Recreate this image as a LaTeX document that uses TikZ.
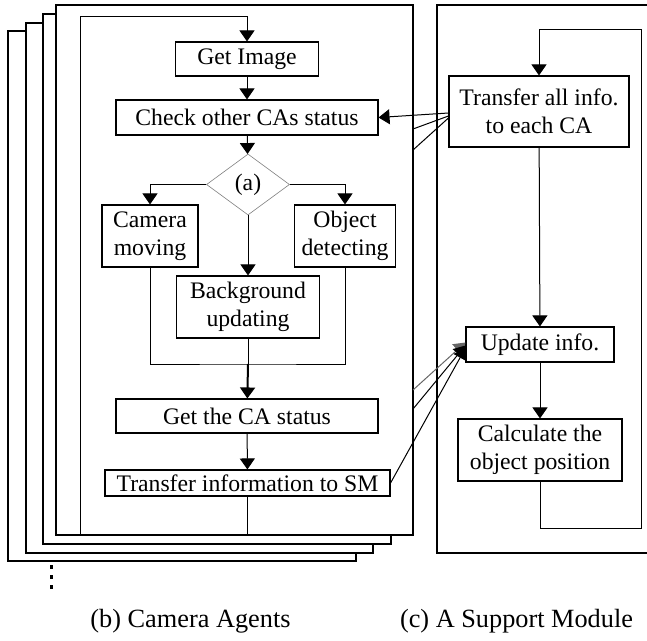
\documentclass[tikz,border=0pt]{standalone}
\usepackage{fontspec}
\setmainfont{Liberation Serif}
\usetikzlibrary{arrows.meta,shapes.geometric}

\begin{document}
\begin{tikzpicture}[x=1pt,y=-1pt,
	box/.style={draw,line width=1.1pt,align=center,inner sep=0pt,font=\fontsize{23.7}{27.5}\selectfont},
	page/.style={draw,line width=1.1pt,fill=white},
	wire/.style={line width=1pt},
	flow/.style={line width=1pt,-{Triangle[width=15pt,length=11pt]}},
	caption/.style={font=\fontsize{26.3}{30}\selectfont}]
	\useasboundingbox (0,0) rectangle (647,640);

	%Camera agents (stacked pages, back ones first)
	\foreach \l/\t/\r/\b in {8/31/356/561,26/23/373/553,43/14/391/544}
		\draw[page] (\l,\t) rectangle (\r,\b);
	\draw[page] (56,5) rectangle (413,535);

	%Support module frame (runs off the right side)
	\draw[line width=1.1pt] (647,5) -- (437,5) -- (437,553) -- (647,553);

	%CA flow
	\node[box,minimum width=143pt,minimum height=34pt] (getimg) at (247,59) {Get Image};
	\node[box,minimum width=262pt,minimum height=35pt] (check) at (247,117.5) {Check other CAs status};
	\node[diamond,draw=gray,line width=0.6pt,inner sep=0pt,minimum width=83pt,minimum height=61pt,
		font=\fontsize{23.7}{27.5}\selectfont] (sel) at (248,184.5) {(a)};
	\node[box,minimum width=96pt,minimum height=62pt] (cammov) at (150,236) {Camera\\moving};
	\node[box,minimum width=101pt,minimum height=62pt] (objdet) at (345,236) {Object\\detecting};
	\node[box,minimum width=143pt,minimum height=62pt] (bgupd) at (248,307) {Background\\updating};
	\coordinate (merge) at (248,364);
	\node[box,minimum width=262pt,minimum height=34pt] (getca) at (247,416) {Get the CA status};
	\node[box,minimum width=285pt,minimum height=26pt] (trsm) at (247.5,483) {Transfer information to SM};

	\draw[flow] (trsm.south) -- ++(0,39) -| (80,16) -| (getimg.north);
	\draw[flow] (getimg) -- (check);
	\draw[flow] (check) -- (sel);
	\draw[flow] (sel.west) -| (cammov.north);
	\draw[flow] (sel.east) -| (objdet.north);
	\draw[flow] (sel) -- (bgupd);
	\draw[wire] (cammov.south) |- (merge) -| (objdet.south);
	\draw[wire] (bgupd) -- (merge);
	\draw[flow,line width=2pt] (merge) -- (getca);
	\draw[flow] (getca) -- (trsm);

	%SM flow
	\node[box,minimum width=180pt,minimum height=71pt] (trall) at (539,111.5) {Transfer all info.\\to each CA};
	\node[box,minimum width=148pt,minimum height=35pt] (upd) at (540,344.5) {Update info.};
	\node[box,minimum width=164pt,minimum height=62pt] (calc) at (540,450) {Calculate the\\object position};

	\draw[flow] (calc.south) -- ++(0,47) -| (641,29) -| (trall.north);
	\draw[flow] (trall) -- (upd);
	\draw[flow] (upd) -- (calc);

	%links between the CAs and the SM
	\coordinate (ca2) at (413,129);
	\coordinate (ca3) at (413,150);
	\coordinate (sm2) at (413,390);
	\coordinate (sm3) at (413,409);
	\draw[flow] ([yshift=-1.5pt]trall.west) -- (check.east);
	\draw[wire] ([yshift=-4.5pt]trall.west) -- (ca2);
	\draw[wire] ([yshift=-6.5pt]trall.west) -- (ca3);
	\draw[flow,black!60] (sm2) -- ([yshift=2pt]upd.west);
	\draw[flow] (sm3) -- ([yshift=-1pt]upd.west);
	\draw[flow] (trsm.east) -- ([yshift=-3.5pt]upd.west);

	%more agents below
	\foreach \y in {567,577,587}
		\fill (49.5,\y-1.75) rectangle ++(3.5,3.5);

	\node[caption] (capca) at (190.5,621) {(b) Camera Agents};
	\node[caption] (capsm) at (516.5,621) {(c) A Support Module};
\end{tikzpicture}
\end{document}
